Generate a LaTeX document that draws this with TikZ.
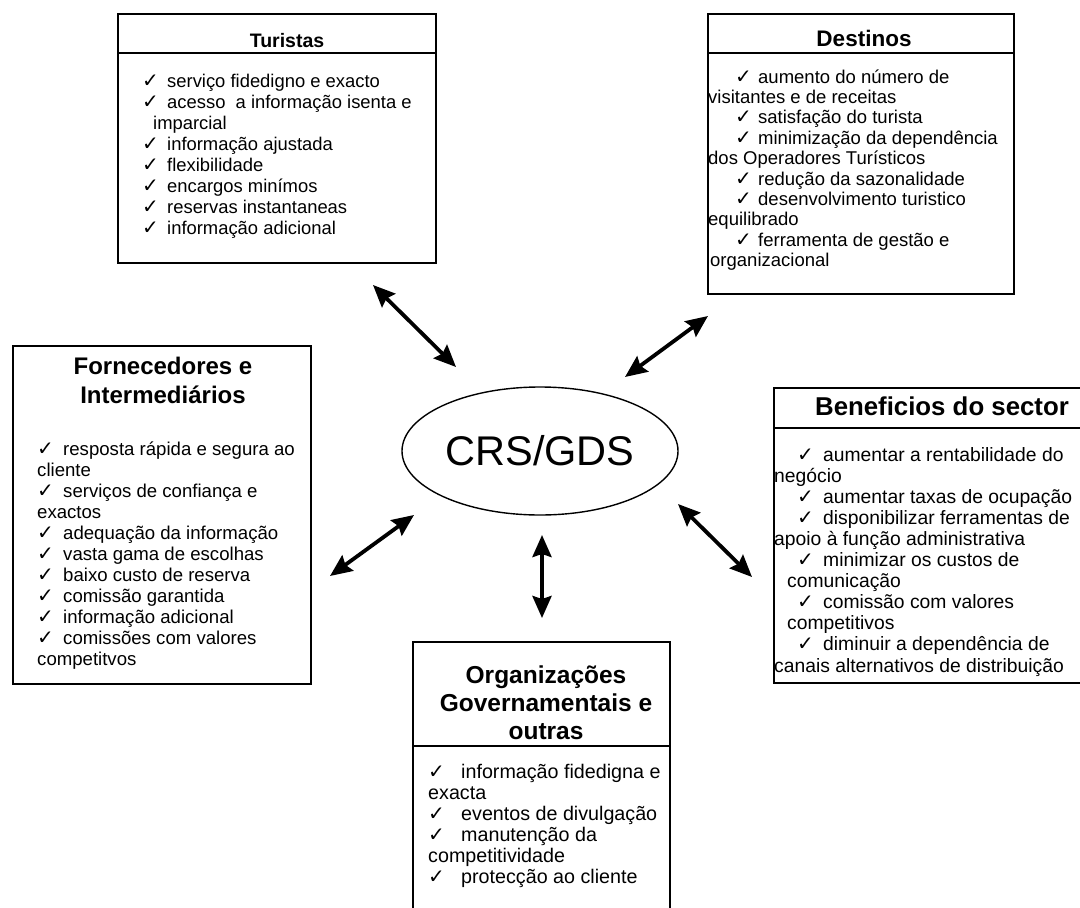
\documentclass[tikz,border=0pt]{standalone}
\usepackage{fontspec}
\setmainfont{Liberation Sans}
\newfontfamily\ckfont{DejaVu Sans}
\usetikzlibrary{shapes.geometric,arrows.meta}

% gap between a tick and the text that follows it
\newlength\ckw
\newcommand\ck{\makebox[\ckw][l]{\ckfont\fontsize{20}{20}\selectfont ✓}}
\newcommand\ind[1]{\hspace*{#1pt}}
% list body: font size, line step, tick gap, lines
\newcommand\itemlines[4]{\begin{minipage}[t]{340pt}\fontsize{#1}{#2}\selectfont\setlength\ckw{#3pt}\raggedright #4\end{minipage}}
% centred heading over several lines: font size, line step, lines
\newcommand\headlines[3]{\begin{minipage}[t]{300pt}\fontsize{#1}{#2}\selectfont\bfseries\centering #3\end{minipage}}

\tikzset{
  panel/.style={draw=black, line width=1.8pt, rectangle, inner sep=0, anchor=north west},
  divider/.style={line width=1.6pt},
  ttl/.style={inner sep=0, anchor=base},
  body/.style={inner sep=0, anchor=base west},
  link/.style={line width=3.8pt,
    {Stealth[length=22pt,width=19pt,inset=3pt]}-{Stealth[length=22pt,width=19pt,inset=3pt]}},
}

\begin{document}
\begin{tikzpicture}[x=1pt, y=-1pt]
\clip (0,0) rectangle (1080,908);
\fill[white] (0,0) rectangle (1080,908);

% ---- central system
\node[draw, ellipse, line width=1.4pt, minimum width=276pt, minimum height=128pt, inner sep=0,
      font=\fontsize{41.5}{42}\selectfont] (crs) at (540,451) {CRS/GDS};

% ---- Turistas
\node[panel, minimum width=318pt, minimum height=249pt] (tur) at (117,13) {};
\draw[divider] (tur.west |- 0,53) -- (tur.east |- 0,53);
\node[ttl, font=\bfseries\fontsize{19.5}{20}\selectfont] (turT) at (287,47) {Turistas};
\node[body] (turB) at (142,87) {\itemlines{18.4}{21.1}{25}{%
\ck serviço fidedigno e exacto\\
\ck acesso\ \ a informação isenta e\\
\ind{11}imparcial\\
\ck informação ajustada\\
\ck flexibilidade\\
\ck encargos minímos\\
\ck reservas instantaneas\\
\ck informação adicional}};

% ---- Destinos
\node[panel, minimum width=306pt, minimum height=280pt] (dest) at (707,13) {};
\draw[divider] (dest.west |- 0,53) -- (dest.east |- 0,53);
\node[ttl, font=\bfseries\fontsize{22.5}{23}\selectfont] (destT) at (864,46) {Destinos};
\node[body] (destB) at (708,83) {\itemlines{18.5}{20.4}{23}{%
\ind{27}\ck aumento do número de\\
visitantes e de receitas\\
\ind{27}\ck satisfação do turista\\
\ind{27}\ck minimização da dependência\\
dos Operadores Turísticos\\
\ind{27}\ck redução da sazonalidade\\
\ind{27}\ck desenvolvimento turistico\\
equilibrado\\
\ind{27}\ck ferramenta de gestão e\\
\ind{2}organizacional}};

% ---- Fornecedores e Intermediários
\node[panel, minimum width=298pt, minimum height=338pt] (forn) at (12,345) {};
\node[ttl] (fornT) at (163,374) {\headlines{24}{29}{Fornecedores e\\Intermediários}};
\node[body] (fornB) at (37,455) {\itemlines{18.6}{21}{26}{%
\ck resposta rápida e segura ao\\
cliente\\
\ck serviços de confiança e\\
exactos\\
\ck adequação da informação\\
\ck vasta gama de escolhas\\
\ck baixo custo de reserva\\
\ck comissão garantida\\
\ck informação adicional\\
\ck comissões com valores\\
competitvos}};

% ---- Benefícios do sector
\node[panel, minimum width=339pt, minimum height=295pt] (ben) at (773,387) {};
\draw[divider] (ben.west |- 0,428) -- (ben.east |- 0,428);
\node[ttl, font=\bfseries\fontsize{25.8}{26}\selectfont] (benT) at (942,415) {Beneficios do sector};
\node[body] (benB) at (774,461) {\itemlines{19.3}{21.1}{26}{%
\ind{23}\ck aumentar a rentabilidade do\\
negócio\\
\ind{23}\ck aumentar taxas de ocupação\\
\ind{23}\ck disponibilizar ferramentas de\\
apoio à função administrativa\\
\ind{23}\ck minimizar os custos de\\
\ind{13}comunicação\\
\ind{23}\ck comissão com valores\\
\ind{13}competitivos\\
\ind{23}\ck diminuir a dependência de\\
canais alternativos de distribuição}};

% ---- Organizações Governamentais e outras
\node[panel, minimum width=257pt, minimum height=279pt] (org) at (412,641) {};
\draw[divider] (org.west |- 0,746) -- (org.east |- 0,746);
\node[ttl] (orgT) at (546,683) {\headlines{24.5}{28}{Organizações\\Governamentais e\\outras}};
\node[body] (orgB) at (428,778) {\itemlines{19.7}{21}{33}{%
\ck informação fidedigna e\\
exacta\\
\ck eventos de divulgação\\
\ck manutenção da\\
competitividade\\
\ck protecção ao cliente}};

% ---- two-way links around the central system
\coordinate (l1a) at (373,285); \coordinate (l1b) at (456,367);
\coordinate (l2a) at (708,316); \coordinate (l2b) at (625,377);
\coordinate (l3a) at (330,576); \coordinate (l3b) at (414,515);
\coordinate (l4a) at (542,535); \coordinate (l4b) at (542,618);
\coordinate (l5a) at (678,504); \coordinate (l5b) at (752,577);
\draw[link] (l1a) -- (l1b);
\draw[link] (l2a) -- (l2b);
\draw[link] (l3a) -- (l3b);
\draw[link] (l4a) -- (l4b);
\draw[link] (l5a) -- (l5b);
\end{tikzpicture}
\end{document}
